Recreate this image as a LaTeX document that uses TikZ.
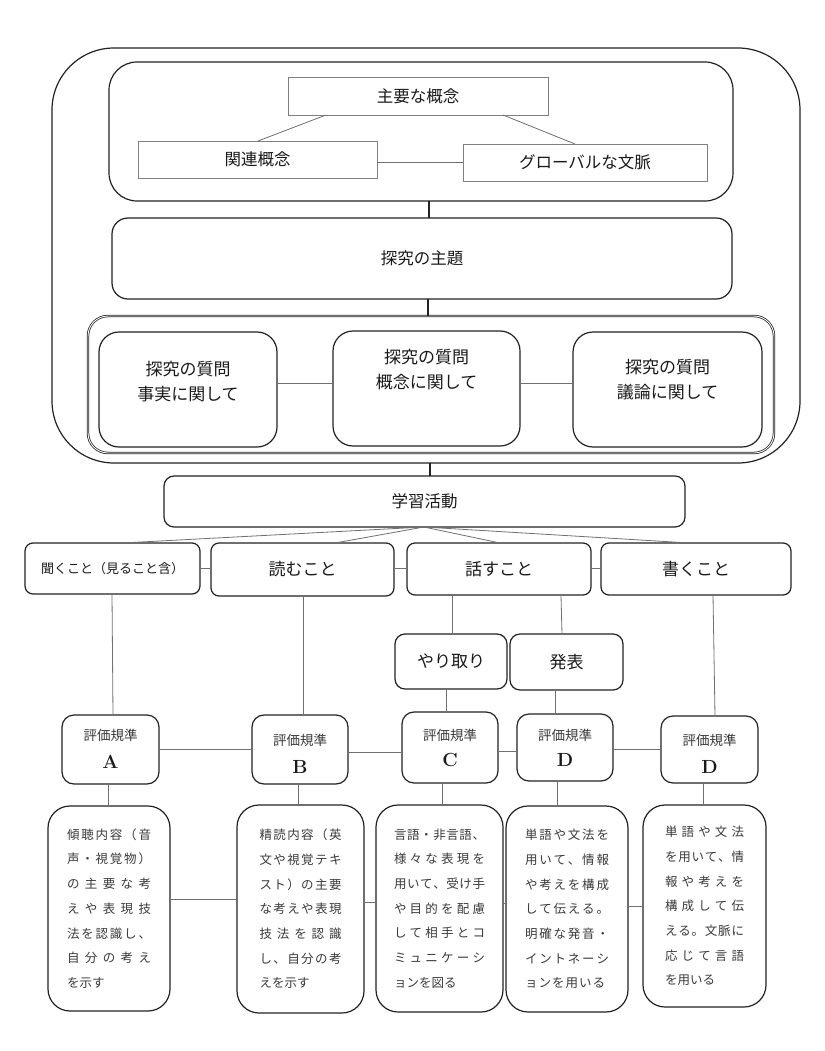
\documentclass[tikz,border=0pt]{standalone}
\usepackage{fontspec}
\newfontfamily\jp{Noto Sans CJK JP}
\usetikzlibrary{calc}
\definecolor{bd}{HTML}{222222}
\definecolor{gb}{HTML}{808080}
\definecolor{ln}{HTML}{707070}
\definecolor{tx}{HTML}{1A1A1A}
\definecolor{txb}{HTML}{3A3A3A}
\newcommand\jl[2]{\leavevmode\hbox to #1pt{\jlA#2\relax}}
\def\jlA#1{#1\jlB}
\def\jlB#1{\ifx\relax#1\else\hfill#1\expandafter\jlB\fi}
\newcommand\bx[7]{\node[#1,minimum width={(#5-#3)*1pt},minimum height={(#6-#4)*1pt}] (#2) at ({(#3+#5)/2},{(#4+#6)/2}) {#7};}
\begin{document}
\begin{tikzpicture}[x=1pt,y=-1pt,
  rbox/.style={draw=bd, line width=1.2pt, rounded corners=#1, inner sep=0pt, outer sep=0pt, align=center, text=tx},
  rbox/.default=10pt,
  gbox/.style={draw=gb, line width=0.9pt, inner sep=0pt, outer sep=0pt, text=tx},
  conn/.style={draw=ln, line width=0.8pt},
  thickconn/.style={draw=bd, line width=2.6pt},
  ttl/.style={font=\jp\fontsize{16.5}{20}\selectfont},
  qtxt/.style={font=\jp\fontsize{17}{25}\selectfont, align=center, inner sep=0pt, text=tx},
  skl/.style={font=\jp\fontsize{17}{20}\selectfont},
  evl/.style={font=\jp\fontsize{13.5}{16}\selectfont, inner sep=0pt, text=txb},
  evletter/.style={font=\fontsize{19}{19}\selectfont\bfseries, inner sep=0pt, text=tx},
  btxt/.style={text width=#1pt, align=left, font=\jp\fontsize{12.5}{24.7}\selectfont, text=txb}
]
\fill[white] (0,0) rectangle (824,1051);
\useasboundingbox (0,0) rectangle (824,1051);

% outer frame and groups
\bx{rbox=62pt}{outer}{52}{48}{800}{463}{}
\bx{rbox=28pt}{con}{109}{62}{733}{201}{}
\bx{gbox,ttl}{main}{288}{77}{548}{115}{主要な概念}
\bx{gbox,ttl}{rel}{138}{141}{377}{178}{関連概念}
\bx{gbox,ttl}{glob}{463}{144}{707}{181}{グローバルな文脈}
\bx{rbox=16pt,ttl}{theme}{112}{218}{732}{299}{探究の主題}
\bx{rbox=20pt,double=white,double distance=0.9pt,line width=0.75pt}{ctn}{88}{316}{774}{453}{}
\bx{rbox=20pt}{q1}{99}{332}{277}{447}{}
\bx{rbox=20pt}{q2}{333}{331}{520}{446}{}
\bx{rbox=20pt}{q3}{573}{332}{762}{447}{}
\node[qtxt] (q1t) at (188,382) {探究の質問\\事実に関して};
\node[qtxt] (q2t) at (426.5,370) {探究の質問\\概念に関して};
\node[qtxt] (q3t) at (667.5,379.5) {探究の質問\\議論に関して};

% learning activities
\bx{rbox=10pt,ttl}{act}{164}{476}{685}{527}{学習活動}
\bx{rbox=8pt,font=\jp\fontsize{13}{16}\selectfont}{lis}{25}{543}{200}{594}{聞くこと（見ること含）}
\bx{rbox=8pt,skl}{rea}{211}{543}{394}{596}{読むこと}
\bx{rbox=8pt,skl}{spk}{407}{543}{591}{595}{話すこと}
\bx{rbox=8pt,skl}{wri}{601}{543}{791}{595}{書くこと}
\bx{rbox=10pt,skl}{yar}{395}{634}{507}{689}{やり取り}
\bx{rbox=10pt,skl}{hap}{510}{634}{623}{690}{発表}

% evaluation criteria
\bx{rbox=12pt}{eA}{62}{715}{159}{784}{}
\bx{rbox=12pt}{eB}{252}{715}{348}{784}{}
\bx{rbox=12pt}{eC}{402}{712}{498}{783}{}
\bx{rbox=12pt}{eD}{517}{714}{613}{781}{}
\bx{rbox=12pt}{eE}{661}{716}{758}{783}{}
\node[evl] (eAt) at (110.5,735) {評価規準};
\node[evletter] (eAl) at (110.5,762) {A};
\node[evl] (eBt) at (300,740) {評価規準};
\node[evletter] (eBl) at (300,767) {B};
\node[evl] (eCt) at (450,735) {評価規準};
\node[evletter] (eCl) at (450,760) {C};
\node[evl] (eDt) at (565,735) {評価規準};
\node[evletter] (eDl) at (565,760) {D};
\node[evl] (eEt) at (709.5,740) {評価規準};
\node[evletter] (eEl) at (709.5,767) {D};

% descriptions
\bx{rbox=22pt,btxt=84}{b1}{48}{806}{170}{1011}{\jl{84}{傾聴内容（音}\\\jl{84}{声・視覚物）}\\\jl{84}{の主要な考}\\\jl{84}{えや表現技}\\\jl{84}{法を認識し、}\\\jl{84}{自分の考え}\\を示す}
\bx{rbox=22pt,btxt=82}{b2}{237}{805}{364}{1013}{\jl{82}{精読内容（英}\\\jl{82}{文や視覚テキ}\\\jl{82}{スト）の主要}\\\jl{82}{な考えや表現}\\\jl{82}{技法を認識}\\\jl{82}{し、自分の考}\\えを示す}
\bx{rbox=22pt,btxt=91}{b3}{376}{805}{503}{1012}{\jl{91}{言語・非言語、}\\\jl{91}{様々な表現を}\\\jl{91}{用いて、受け手}\\\jl{91}{や目的を配慮}\\\jl{91}{して相手とコ}\\\jl{91}{ミュニケーシ}\\ョンを図る}
\bx{rbox=22pt,btxt=84}{b4}{506}{806}{628}{1012}{\jl{84}{単語や文法を}\\\jl{84}{用いて、情報}\\\jl{84}{や考えを構成}\\\jl{84}{して伝える。}\\\jl{84}{明確な発音・}\\\jl{84}{イントネーシ}\\\jl{80}{ョンを用いる}}
\bx{rbox=22pt,btxt=79}{b5}{643}{805}{766}{1007}{\jl{79}{単語や文法}\\\jl{79}{を用いて、情}\\\jl{79}{報や考えを}\\\jl{79}{構成して伝}\\\jl{79}{える。文脈に}\\\jl{79}{応じて言語}\\を用いる}

% connectors: concepts
\draw[conn] ($(main.south west)+(38,0)$) -- ($(rel.north west)+(120,0)$);
\draw[conn] ($(main.south west)+(215,0)$) -- ($(glob.north west)+(112,0)$);
\draw[conn] ($(rel.north east)+(0,21)$) -- ($(glob.north west)+(0,18)$);
% thick connectors
\draw[thickconn] ($(con.south west)+(320,0)$) -- ($(theme.north west)+(317,0)$);
\draw[thickconn] ($(theme.south west)+(316,0)$) -- ($(ctn.north west)+(340,0)$);
\draw[thickconn] ($(outer.south west)+(378,0)$) -- ($(act.north west)+(266,0)$);
% questions
\draw[conn] ($(q1.north east)+(0,51)$) -- ($(q2.north west)+(0,52)$);
\draw[conn] ($(q2.north east)+(0,52)$) -- ($(q3.north west)+(0,51)$);
% activity to skills
\draw[conn] ($(act.south west)+(260,0)$) -- ($(lis.north west)+(97,0)$);
\draw[conn] ($(act.south west)+(260,0)$) -- ($(rea.north west)+(124,0)$);
\draw[conn] ($(act.south west)+(260,0)$) -- ($(spk.north west)+(93,0)$);
\draw[conn] ($(act.south west)+(260,0)$) -- ($(wri.north west)+(89,0)$);
\draw[conn] ($(lis.north east)+(0,25)$) -- ($(rea.north west)+(0,25)$);
\draw[conn] ($(rea.north east)+(0,25)$) -- ($(spk.north west)+(0,25)$);
\draw[conn] ($(spk.north east)+(0,25)$) -- ($(wri.north west)+(0,25)$);
% skills down
\draw[conn] ($(lis.south west)+(87,0)$) -- ($(eA.north west)+(51,0)$);
\draw[conn] ($(rea.south west)+(92,0)$) -- ($(eB.north west)+(51,0)$);
\draw[conn] ($(spk.south west)+(45,0)$) -- ($(yar.north west)+(57,0)$);
\draw[conn] ($(spk.south west)+(154,0)$) -- ($(hap.north west)+(52,0)$);
\draw[conn] ($(yar.south west)+(51,0)$) -- ($(eC.north west)+(44,0)$);
\draw[conn] ($(hap.south west)+(45,0)$) -- ($(eD.north west)+(38,0)$);
\draw[conn] ($(wri.south west)+(112,0)$) -- ($(eE.north west)+(54,0)$);
% criteria row
\draw[conn] ($(eA.north east)+(0,34)$) -- ($(eB.north west)+(0,34)$);
\draw[conn] ($(eB.north east)+(0,37)$) -- ($(eC.north west)+(0,40)$);
\draw[conn] ($(eC.north east)+(0,39)$) -- ($(eD.north west)+(0,37)$);
\draw[conn] ($(eD.north east)+(0,35)$) -- ($(eE.north west)+(0,33)$);
% criteria to descriptions
\draw[conn] ($(eA.south west)+(46,0)$) -- ($(b1.north west)+(60,0)$);
\draw[conn] ($(eB.south west)+(46,0)$) -- ($(b2.north west)+(61,0)$);
\draw[conn] ($(eC.south west)+(40,0)$) -- ($(b3.north west)+(66,0)$);
\draw[conn] ($(eD.south west)+(40,0)$) -- ($(b4.north west)+(51,0)$);
\draw[conn] ($(eE.south west)+(42,0)$) -- ($(b5.north west)+(60,0)$);
% descriptions row
\draw[conn] ($(b1.north east)+(0,93)$) -- ($(b2.north west)+(0,94)$);
\draw[conn] ($(b2.north east)+(0,97)$) -- ($(b3.north west)+(0,97)$);
\draw[conn] ($(b3.north east)+(0,98)$) -- ($(b4.north west)+(0,97)$);
\draw[conn] ($(b4.north east)+(0,100)$) -- ($(b5.north west)+(0,101)$);
\end{tikzpicture}
\end{document}
